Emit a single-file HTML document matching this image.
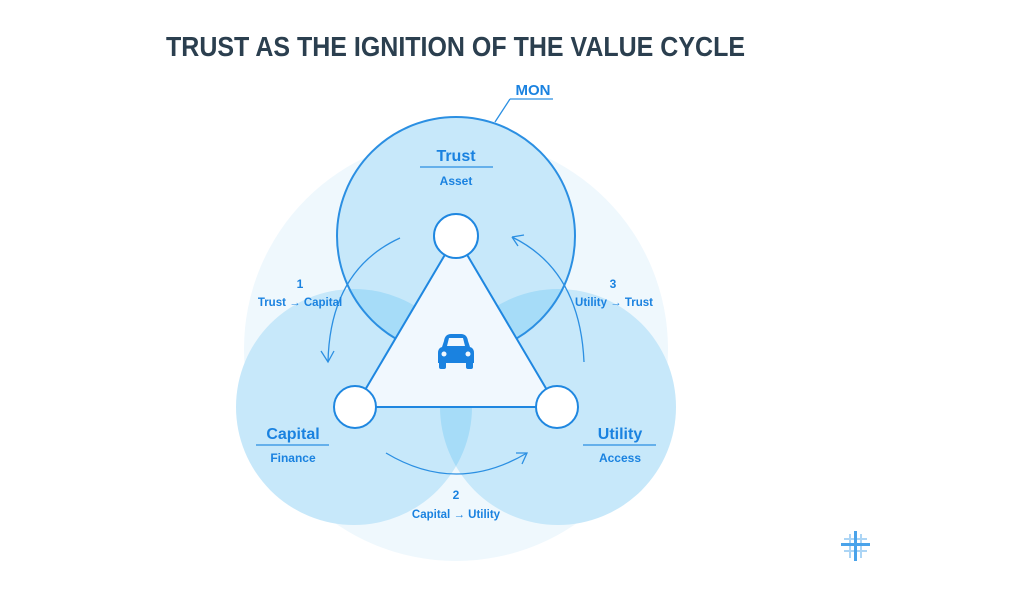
<!DOCTYPE html>
<html><head><meta charset="utf-8"><style>
html,body{margin:0;padding:0;background:#fff;width:1024px;height:604px;overflow:hidden}
svg{display:block}
text{font-family:"Liberation Sans","DejaVu Sans",sans-serif;font-weight:bold}
</style></head><body>
<svg width="1024" height="604" viewBox="0 0 1024 604" xmlns="http://www.w3.org/2000/svg">
<defs>
<clipPath id="cT"><circle cx="456" cy="236" r="119"/></clipPath>
<clipPath id="cL"><circle cx="354" cy="407" r="118"/></clipPath>
<clipPath id="cR"><circle cx="558" cy="407" r="118"/></clipPath>
</defs>
<text x="166" y="56" font-size="27.5" fill="#2b3f4f" textLength="579" lengthAdjust="spacingAndGlyphs">TRUST AS THE IGNITION OF THE VALUE CYCLE</text>
<circle cx="456" cy="349" r="212" fill="#eff8fd"/>
<circle cx="354" cy="407" r="118" fill="#c7e8fa"/>
<circle cx="558" cy="407" r="118" fill="#c7e8fa"/>
<circle cx="456" cy="236" r="119" fill="#c7e8fa"/>
<g clip-path="url(#cT)"><circle cx="354" cy="407" r="118" fill="#a6dcf8"/><circle cx="558" cy="407" r="118" fill="#a6dcf8"/></g>
<g clip-path="url(#cL)"><circle cx="558" cy="407" r="118" fill="#a6dcf8"/></g>
<circle cx="456" cy="236" r="119" fill="none" stroke="#2b8fe2" stroke-width="2"/>
<polygon points="456,236 355,407 557,407" fill="#f1f8fe" stroke="#1f87e0" stroke-width="2"/>
<circle cx="456" cy="236" r="22" fill="#fff" stroke="#1f87e0" stroke-width="2"/>
<circle cx="355" cy="407" r="21" fill="#fff" stroke="#1f87e0" stroke-width="2"/>
<circle cx="557" cy="407" r="21" fill="#fff" stroke="#1f87e0" stroke-width="2"/>
<!-- car -->
<g fill="#1a82e0">
<path d="M444 341 Q445 334 451 334 L461 334 Q467 334 468 341 L470 347 Q474 348 474 353 L474 363 L438 363 L438 353 Q438 348 442 347 Z M447 346 L465 346 L463 338 L449 338 Z" fill-rule="evenodd"/>
<rect x="439" y="361" width="7" height="8" rx="2"/><rect x="466" y="361" width="7" height="8" rx="2"/>
</g>
<circle cx="444" cy="354" r="2.5" fill="#f1f8fe"/><circle cx="468" cy="354" r="2.5" fill="#f1f8fe"/>
<!-- arrows -->
<g fill="none" stroke="#2b8fe2" stroke-width="1.3">
<path d="M400 238 Q330 270 328 362"/><path d="M321 351 L328 362 L334 351"/>
<path d="M584 362 Q580 270 512 237"/><path d="M512 237 L524 235 M512 237 L518 246"/>
<path d="M386 453 Q456 495 527 453"/><path d="M516 453 L527 453 L522 464"/>
<path d="M510 99 L553 99 M510 99 L495 122"/>
<path d="M420 167 L493 167 M256 445 L329 445 M583 445 L656 445"/>
</g>
<g fill="#1a82e0" text-anchor="middle">
<text x="533" y="95" font-size="15">MON</text>
<text x="456" y="161" font-size="16">Trust</text>
<text x="456" y="185" font-size="12">Asset</text>
<text x="293" y="439" font-size="16">Capital</text>
<text x="293" y="462" font-size="12">Finance</text>
<text x="620" y="439" font-size="16">Utility</text>
<text x="620" y="462" font-size="12">Access</text>
<text x="300" y="288" font-size="12">1</text>
<text x="300" y="306" font-size="11.5">Trust → Capital</text>
<text x="613" y="288" font-size="12">3</text>
<text x="614" y="306" font-size="11.5">Utility → Trust</text>
<text x="456" y="499" font-size="12">2</text>
<text x="456" y="518" font-size="11.5">Capital → Utility</text>
</g>
<g fill="#4aa3ea">
<rect x="854" y="531" width="3" height="30"/><rect x="841" y="543" width="29" height="3"/>
<g opacity="0.45"><rect x="849" y="534" width="2" height="24"/><rect x="860" y="534" width="2" height="24"/><rect x="844" y="538" width="23" height="2"/><rect x="844" y="550" width="23" height="2"/></g>
</g>
</svg>
</body></html>
